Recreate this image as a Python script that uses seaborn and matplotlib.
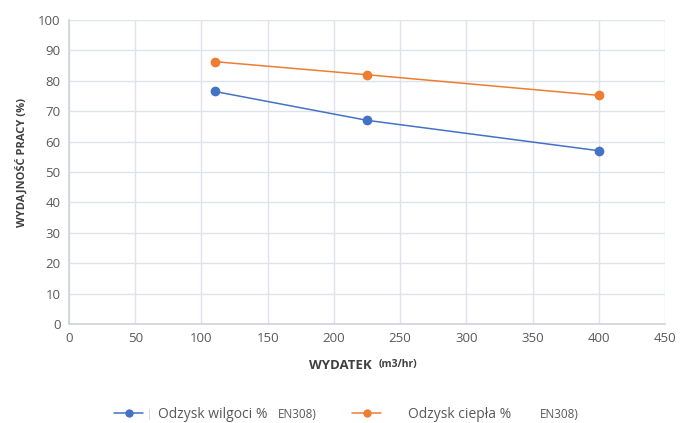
import matplotlib
matplotlib.use("Agg")
import matplotlib.pyplot as plt
import seaborn as sns
import pandas as pd

flow = [110, 225, 400]
moisture = [76.5, 67.0, 57.0]
heat = [86.3, 82.0, 75.2]
series_names = ["Odzysk wilgoci %", "Odzysk ciepła %"]
suffix = "EN308)"
x_ticks = [0, 50, 100, 150, 200, 250, 300, 350, 400, 450]
y_ticks = [0, 10, 20, 30, 40, 50, 60, 70, 80, 90, 100]

df = pd.DataFrame({
    "flow": flow * 2,
    "value": moisture + heat,
    "series": [series_names[0]] * 3 + [series_names[1]] * 3,
})

sns.set_theme(style="white")
plt.rcParams['font.family'] = ['Open Sans', 'DejaVu Sans']

W, H = 695, 423
fig = plt.figure(figsize=(6.95, 4.23), dpi=100)
ax = fig.add_axes([69 / W, 1 - 324 / H, (665 - 69) / W, (324 - 20) / H])

colors = ["#4472C4", "#ED7D31"]
palette = dict(zip(series_names, colors))
sns.lineplot(data=df, x="flow", y="value", hue="series", palette=palette,
             marker="o", markersize=7, markeredgewidth=0, linewidth=1.1, ax=ax, legend=False)

ax.set_xlim(0, 450)
ax.set_ylim(0, 100)
ax.set_xticks(x_ticks)
ax.set_yticks(y_ticks)
ax.grid(True, color="#dfe2ea", linewidth=1)
ax.set_axisbelow(True)
for s in ["top", "right"]:
    ax.spines[s].set_visible(False)
ax.spines["left"].set_color("#d0d4dd")
ax.spines["bottom"].set_color("#d0d4dd")
ax.tick_params(axis="both", length=0, labelsize=9.5, labelcolor="#595959", pad=6)

ax.set_ylabel("WYDAJNOŚĆ PRACY (%)", fontsize=8, fontweight="bold", color="#404040")
ax.yaxis.set_label_coords(-0.069, 0.533)
ax.set_xlabel("")
fig.text(0.535, 0.128, "WYDATEK", fontsize=9.5, fontweight="bold", color="#404040", ha="right", va="baseline")
fig.text(0.545, 0.132, "(m3/hr)", fontsize=7.5, fontweight="bold", color="#404040", ha="left", va="baseline")

# manual legend entries
legend_x = [114, 352]
text_pad = [1.05, 1.95]
suffix_x = [278, 540]
leg_y = 1 - 414 / H
for name, col, lx, pad, sx in zip(series_names, colors, legend_x, text_pad, suffix_x):
    h = plt.Line2D([], [], color=col, marker="o", markersize=6, markeredgewidth=0, linewidth=1.1)
    lg = fig.legend([h], [name], loc="center left", bbox_to_anchor=(lx / W, leg_y),
                    frameon=False, fontsize=10, handlelength=2.1, handletextpad=pad,
                    borderpad=0, borderaxespad=0)
    for t in lg.get_texts():
        t.set_color("#595959")
    fig.text(sx / W, leg_y, suffix, fontsize=8.5, color="#595959", ha="left", va="center")
fig.text(149 / W, leg_y, "|", fontsize=7, color="#c8c8c8", ha="center", va="center")

fig.savefig("out.png", dpi=100)
